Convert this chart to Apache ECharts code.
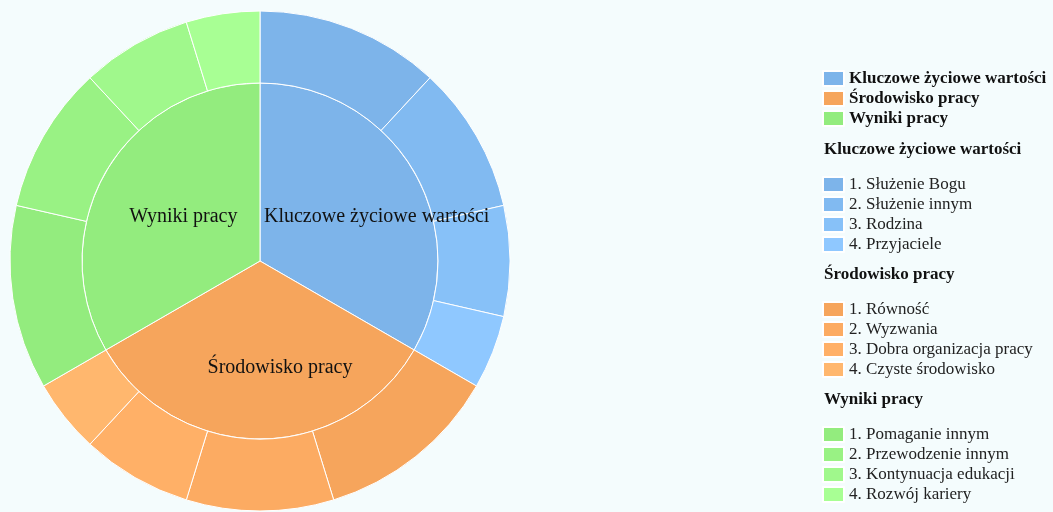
<!DOCTYPE html>
<html>
<head>
<meta charset="utf-8">
<script src="https://cdn.jsdelivr.net/npm/echarts@6/dist/echarts.min.js"></script>
<style>
  html, body { margin: 0; padding: 0; background: #f4fcfd; }
  #chart { width: 1053px; height: 512px; }
</style>
</head>
<body>
<div id="chart"></div>
<script>
// grupy (wewnętrzny pierścień)
const groups = ['Kluczowe życiowe wartości', 'Środowisko pracy', 'Wyniki pracy']
// elementy każdej grupy (zewnętrzny pierścień)
const groupItems = [
  ['1. Służenie Bogu', '2. Służenie innym', '3. Rodzina', '4. Przyjaciele'],
  ['1. Równość', '2. Wyzwania', '3. Dobra organizacja pracy', '4. Czyste środowisko'],
  ['1. Pomaganie innym', '2. Przewodzenie innym', '3. Kontynuacja edukacji', '4. Rozwój kariery']
]
const itemValues = [
  [5, 4, 3, 2],
  [5, 4, 3, 2],
  [5, 4, 3, 2]
]

// kolory
const groupColors = ['#7db4ea', '#f6a55c', '#93ec7e']
const itemColors = [
  ['#7db4ea', '#81baf1', '#87c1f8', '#8fc8ff'],
  ['#f6a55c', '#fcab62', '#ffb067', '#ffb76e'],
  ['#93ec7e', '#99f284', '#a0f88c', '#a8ff94']
]
const labelOffsets = [[37, 2], [20, 15], [3, 2]]

const font = 'Liberation Serif'
const center = [260, 261]

const innerData = groups.map((g, i) => ({
  name: g,
  value: itemValues[i].reduce((a, b) => a + b, 0),
  itemStyle: { color: groupColors[i] },
  label: { offset: labelOffsets[i] }
}))

const outerData = []
groupItems.forEach((list, i) => {
  list.forEach((n, j) => {
    outerData.push({ name: n, value: itemValues[i][j], itemStyle: { color: itemColors[i][j] } })
  })
})

const legendTops = [176, 301, 426]
const headingTops = [141, 266, 391]

const legendBase = {
  orient: 'vertical',
  left: 822,
  padding: 0,
  itemWidth: 21,
  itemHeight: 15,
  itemGap: 3,
  icon: 'rect'
}

const legends = [Object.assign({}, legendBase, {
  top: 70,
  data: groups,
  textStyle: { fontFamily: font, fontSize: 17, fontWeight: 'bold', color: '#111' }
})]
groupItems.forEach((list, i) => {
  legends.push(Object.assign({}, legendBase, {
    top: legendTops[i],
    data: list,
    textStyle: { fontFamily: font, fontSize: 17, color: '#222' }
  }))
})

const titles = groups.map((g, i) => ({
  text: g,
  left: 824,
  top: headingTops[i],
  padding: 0,
  textStyle: { fontFamily: font, fontSize: 17, lineHeight: 18, fontWeight: 'bold', color: '#111' }
}))

const option = {
  backgroundColor: '#f4fcfd',
  animation: false,
  title: titles,
  legend: legends,
  series: [
    {
      type: 'pie',
      center: center,
      radius: [0, 178],
      startAngle: 90,
      clockwise: true,
      itemStyle: { borderColor: '#fff', borderWidth: 1 },
      label: {
        show: true,
        position: 'inside',
        fontFamily: font,
        fontSize: 20,
        color: '#111'
      },
      labelLine: { show: false },
      emphasis: { scale: false },
      data: innerData
    },
    {
      type: 'pie',
      center: center,
      radius: [178, 250],
      startAngle: 90,
      clockwise: true,
      itemStyle: { borderColor: '#fff', borderWidth: 1 },
      label: { show: false },
      labelLine: { show: false },
      emphasis: { scale: false },
      data: outerData
    }
  ]
}

const chart = echarts.init(document.getElementById('chart'))
chart.setOption(option)
</script>
</body>
</html>
